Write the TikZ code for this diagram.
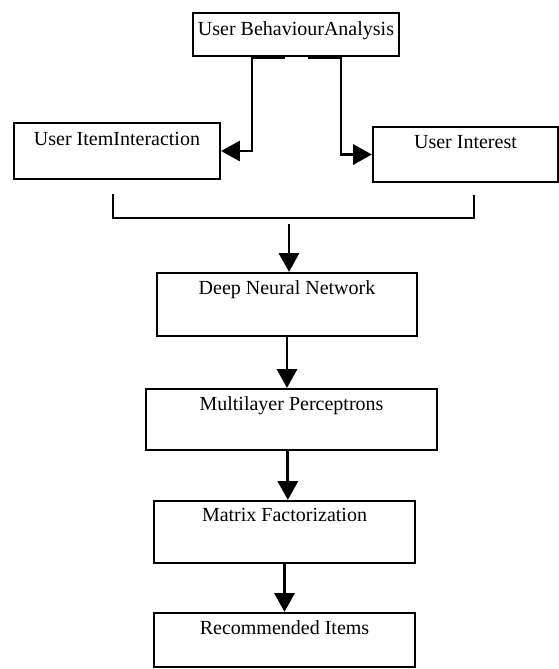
\documentclass[tikz,border=0pt]{standalone}
\usepackage{fontspec}
\setmainfont{Liberation Serif}
\usetikzlibrary{arrows.meta,calc}

\tikzset{every picture/.style={line width=0.75pt}}
\tikzset{
  blk/.style={draw, line width=1.7pt, rectangle, inner sep=0pt},
  blktxt/.style={anchor=north, inner sep=0pt, font=\fontsize{15}{18}\selectfont},
  arr/.style={line width=2.1pt, -{Triangle[length=14pt,width=15pt]}},
}

\begin{document}
\begin{tikzpicture}[x=0.75pt,y=0.75pt,yscale=-1,xscale=1]
%set diagram left start at 0, and has height of 669
\useasboundingbox (0,0) rectangle (559,669);

%Shape: Rectangle [id:uba]
\node (uba) [blk, minimum width=154.5pt, minimum height=32.25pt] at (296,34.5) {};
%Shape: Rectangle [id:uii]
\node (uii) [blk, minimum width=154.5pt, minimum height=42pt] at (117,151) {};
%Shape: Rectangle [id:ui]
\node (ui) [blk, minimum width=138.75pt, minimum height=41.25pt] at (465.5,154.5) {};
%Shape: Rectangle [id:dnn]
\node (dnn) [blk, minimum width=195pt, minimum height=47.25pt] at (287,304.5) {};
%Shape: Rectangle [id:mlp]
\node (mlp) [blk, minimum width=218.25pt, minimum height=45.75pt] at (291.5,419.5) {};
%Shape: Rectangle [id:mf]
\node (mf) [blk, minimum width=195.75pt, minimum height=46.5pt] at (284.5,532) {};
%Shape: Rectangle [id:ri]
\node (ri) [blk, minimum width=195.75pt, minimum height=40.5pt] at (284.5,640) {};

% Text Node
\node (ubaT) [blktxt] at ($(uba.north)+(0,9)$) {User BehaviourAnalysis};
% Text Node
\node (uiiT) [blktxt] at ($(uii.north)+(0,10)$) {User ItemInteraction};
% Text Node
\node (uiT) [blktxt] at ($(ui.north)+(0,9)$) {User Interest};
% Text Node
\node (dnnT) [blktxt] at ($(dnn.north)+(0,8)$) {Deep Neural Network};
% Text Node
\node (mlpT) [blktxt] at ($(mlp.north)+(0,8)$) {Multilayer Perceptrons};
% Text Node
\node (mfT) [blktxt] at ($(mf.north)+(0,8)$) {Matrix Factorization};
% Text Node
\node (riT) [blktxt] at ($(ri.north)+(0,8)$) {Recommended Items};

%Connector Lines [id:split]
\draw [arr] ($(uba.south)+(-11,0)$) -- ($(uba.south)+(-44,0)$) |- (uii.east);
\draw [arr] ($(uba.south)+(12,0)$) -- ($(uba.south)+(45,0)$) |- (ui.west);

%Shape: Bracket [id:merge]
\coordinate (brL) at (113,194);
\coordinate (brR) at (474,195);
\coordinate (brM) at (289,218);
\draw [line width=1.7pt] (brL) |- (brR |- brM) -- (brR);
\draw [arr] ($(brM)+(0,6)$) -- (brM |- dnn.north);

%Straight Lines [id:chain]
\draw [arr] (dnn.south) -- (dnn.south |- mlp.north);
\draw [arr] ([xshift=2.5pt]mf.north |- mlp.south) -- ([xshift=2.5pt]mf.north);
\draw [arr] (mf.south) -- (ri.north);

\end{tikzpicture}
\end{document}
